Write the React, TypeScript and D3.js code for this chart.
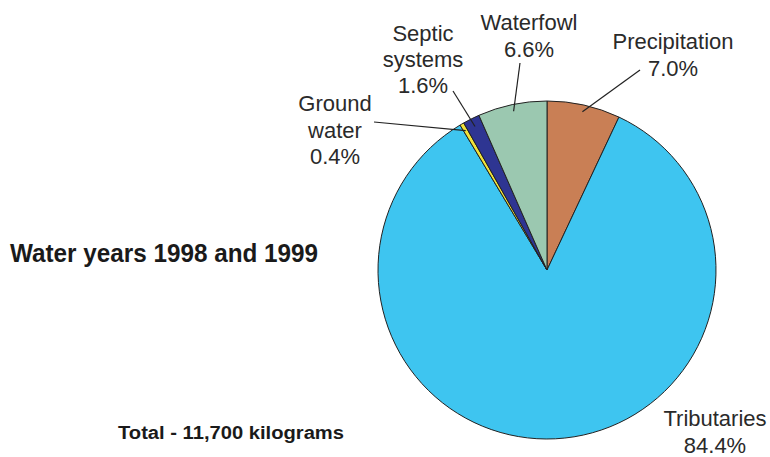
import React from "react";
import * as d3 from "d3";

const categories = ["Precipitation", "Tributaries", "Ground water", "Septic systems", "Waterfowl"];
const values = [7.0, 84.4, 0.4, 1.6, 6.6];
const labelLines = [["Precipitation", "7.0%"], ["Tributaries", "84.4%"], ["Ground", "water", "0.4%"], ["Septic", "systems", "1.6%"], ["Waterfowl", "6.6%"]];
const colors = ["#C97F55", "#3EC5F0", "#F2E33A", "#2E3592", "#9BC8B0"];
const title = "Water years 1998 and 1999";
const totalNote = "Total - 11,700 kilograms";

// label layout: text centre x, first baseline y, line gap, leader start, leader radius factor
const layout = [
  { x: 673, y: 49, gap: 27, lx: 640, ly: 70, rf: 0.96 },
  { x: 715, y: 426, gap: 27, lx: null, ly: null, rf: 0 },
  { x: 335, y: 111, gap: 26.5, lx: 374, ly: 122, rf: 0.955 },
  { x: 423, y: 41, gap: 26, lx: 453, ly: 91, rf: 0.95 },
  { x: 529, y: 30, gap: 27, lx: 520, ly: 63, rf: 0.96 },
];

export default function App() {
  const W = 770, H = 457;
  const cx = 547, cy = 270, r = 169;
  const pie = d3.pie<number>().value((d) => d).sort(null);
  const arcs = pie(values);
  const arc = d3.arc<d3.PieArcDatum<number>>().innerRadius(0).outerRadius(r);
  const font = "'Liberation Sans', Arial, sans-serif";
  return (
    <svg width={W} height={H} style={{ position: "absolute", left: 0, top: 0, background: "#fff" }}>
      <g transform={`translate(${cx},${cy})`}>
        {arcs.map((a, i) => (
          <path key={categories[i]} d={arc(a) || ""} fill={colors[i]} stroke="#222" strokeWidth={1} />
        ))}
      </g>
      {arcs.map((a, i) => {
        const L = layout[i];
        if (L.lx == null) return null;
        const mid = (a.startAngle + a.endAngle) / 2;
        const ex = cx + r * L.rf * Math.sin(mid);
        const ey = cy - r * L.rf * Math.cos(mid);
        return <line key={"l" + i} x1={L.lx} y1={L.ly} x2={ex} y2={ey} stroke="#222" strokeWidth={1.2} />;
      })}
      {labelLines.map((lines, i) => (
        <text key={"t" + i} x={layout[i].x} y={layout[i].y} textAnchor="middle" fontFamily={font} fontSize={22} fill="#2a2a2a">
          {lines.map((s, j) => (
            <tspan key={j} x={layout[i].x} dy={j === 0 ? 0 : layout[i].gap}>{s}</tspan>
          ))}
        </text>
      ))}
      <text x={10} y={262} fontFamily={font} fontWeight="bold" fontSize={25} textLength={308} lengthAdjust="spacingAndGlyphs" fill="#1a1a1a">{title}</text>
      <text x={118} y={439} fontFamily={font} fontWeight="bold" fontSize={18} textLength={226} lengthAdjust="spacingAndGlyphs" fill="#1a1a1a">{totalNote}</text>
    </svg>
  );
}
